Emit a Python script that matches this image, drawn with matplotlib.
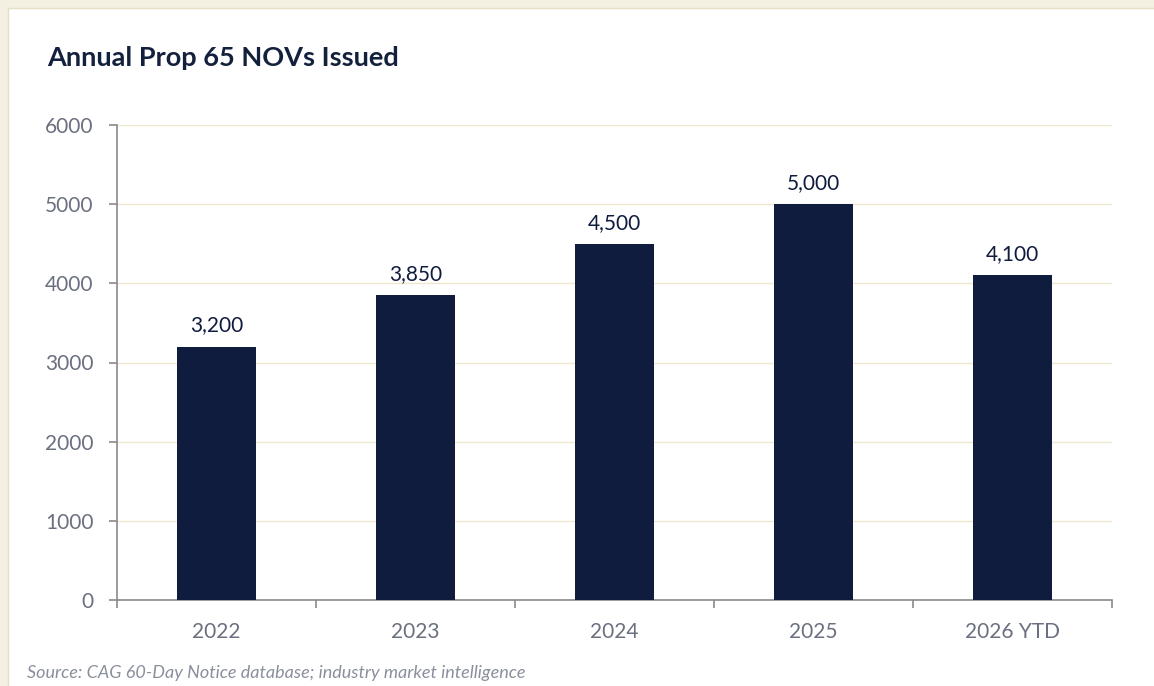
import matplotlib.pyplot as plt
from matplotlib.patches import Rectangle
from matplotlib.ticker import FixedLocator

# data
years = ["2022", "2023", "2024", "2025", "2026 YTD"]
novs = [3200, 3850, 4500, 5000, 4100]
y_ticks = [0, 1000, 2000, 3000, 4000, 5000, 6000]

NAVY = "#101c3e"
GRAY = "#6b7080"
GRID = "#efe7cf"
CREAM = "#f3efe1"

plt.rcParams["font.family"] = ["Lato", "DejaVu Sans"]

fig = plt.figure(figsize=(11.54, 6.86), dpi=100)
fig.patch.set_facecolor(CREAM)

# white card behind everything
W, H = 1154, 686
card = Rectangle((8 / W, -0.01), 1, 1.01 - 8 / H, transform=fig.transFigure,
                 facecolor="white", edgecolor="#e6dfc8", linewidth=1.0, zorder=-10)
fig.add_artist(card)

ax = fig.add_axes([117 / W, 86 / H, (1112 - 117) / W, (600 - 125) / H])
ax.set_facecolor("white")

x = list(range(len(years)))
bars = ax.bar(x, novs, width=0.4, color=NAVY, zorder=3)
for b, v in zip(bars, novs):
    ax.annotate(f"{v:,}", (b.get_x() + b.get_width() / 2, v),
                xytext=(0, 8), textcoords="offset points",
                ha="center", va="bottom", fontsize=15, color=NAVY)

ax.set_xlim(-0.5, len(years) - 0.5)
ax.set_ylim(0, 6000)
ax.set_yticks(y_ticks)
ax.set_yticklabels([str(t) for t in y_ticks])
ax.yaxis.grid(True, color=GRID, linewidth=1.0, zorder=0)
ax.set_axisbelow(True)

ax.set_xticks(x)
ax.set_xticklabels(years)
ax.xaxis.set_minor_locator(FixedLocator([i - 0.5 for i in range(len(years) + 1)]))
ax.tick_params(axis="x", which="major", length=0, pad=16, labelsize=15, labelcolor=GRAY)
ax.tick_params(axis="x", which="minor", length=6, width=1.2, color="#8a8a8a")
ax.tick_params(axis="y", length=6, width=1.2, color="#8a8a8a", pad=11,
               labelsize=15, labelcolor=GRAY)

for side in ["top", "right"]:
    ax.spines[side].set_visible(False)
for side in ["left", "bottom"]:
    ax.spines[side].set_color("#8a8a8a")
    ax.spines[side].set_linewidth(1.2)

fig.text(47 / W, 1 - 58 / H, "Annual Prop 65 NOVs Issued", fontsize=19.5,
         fontweight="bold", color="#14213d", va="center", ha="left")

fig.text(27 / W, 1 - 665 / H,
         "Source: CAG 60-Day Notice database; industry market intelligence",
         fontsize=13, style="italic", color="#8a8f9c", va="top", ha="left")

fig.savefig("out.png", dpi=100, facecolor=fig.get_facecolor())
